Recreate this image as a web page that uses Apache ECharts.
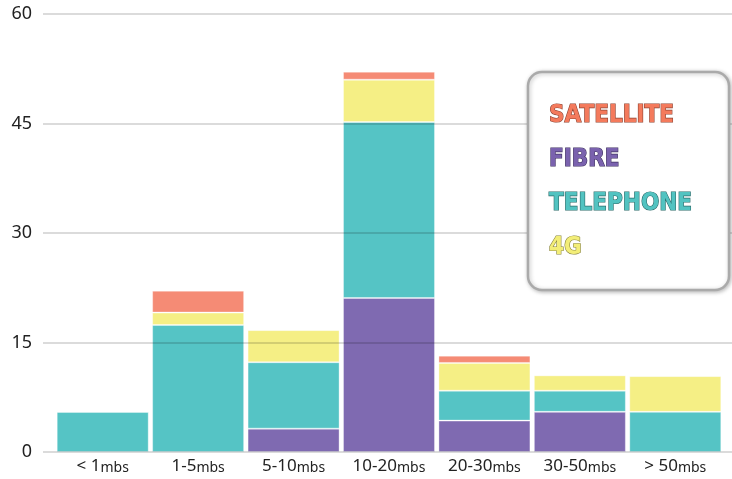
<!DOCTYPE html>
<html>
<head>
<meta charset="utf-8">
<script src="https://cdn.jsdelivr.net/npm/echarts@6/dist/echarts.min.js"></script>
<style>
  html, body { margin: 0; padding: 0; background: #fff; }
  #chart { width: 732px; height: 479px; }
</style>
</head>
<body>
<div id="chart"></div>
<script>
// speed bands
var categories = ['< 1', '1-5', '5-10', '10-20', '20-30', '30-50', '> 50'];
// stacked from bottom to top
var fibre     = [0,   0,    3.2, 21.1, 4.3, 5.5, 0];
var telephone = [5.5, 17.4, 9.1, 24.1, 4.1, 2.9, 5.5];
var fourG     = [0,   1.7,  4.4, 5.8,  3.8, 2.1, 4.9];
var satellite = [0,   3.0,  0,   1.1,  1.0, 0,   0];
var yTicks = [0, 15, 30, 45, 60];

var colors = {
    SATELLITE: '#f58b75',
    FIBRE: '#7f6ab1',
    TELEPHONE: '#55c4c5',
    '4G': '#f5ef85'
};
var legendColors = {
    SATELLITE: ['#f47a5c', '#8e4433'],
    FIBRE: ['#7a62ae', '#3f3160'],
    TELEPHONE: ['#52c3c1', '#2c6b6a'],
    '4G': ['#f3ee78', '#8a8640']
};

var myChart = echarts.init(document.getElementById('chart'));

function bar(name, data) {
    return {
        name: name,
        type: 'bar',
        stack: 'total',
        xAxisIndex: 1,
        yAxisIndex: 1,
        barCategoryGap: '3.6%',
        data: data,
        itemStyle: {
            color: colors[name],
            borderColor: 'rgba(255,255,255,0.35)',
            borderWidth: 1
        }
    };
}

var legendOrder = ['SATELLITE', 'FIBRE', 'TELEPHONE', '4G'];

var option = {
    animation: false,
    backgroundColor: '#fff',
    grid: [
        { left: 43, right: 0, top: 14, bottom: 27 },
        { left: 55, right: 9, top: 14, bottom: 27 }
    ],
    xAxis: [
        { gridIndex: 0, type: 'value', show: false },
        {
            gridIndex: 1,
            type: 'category',
            data: categories,
            axisLine: { show: false },
            axisTick: { show: false },
            axisLabel: {
                interval: 0,
                margin: 6,
                fontSize: 17,
                fontFamily: 'Noto Sans',
                color: '#222',
                formatter: function (v) { return '{a|' + v + '}{b|mbs}'; },
                rich: {
                    a: { fontFamily: 'Noto Sans', fontSize: 17, color: '#222' },
                    b: { fontFamily: 'Noto Sans', fontSize: 14, color: '#222', padding: [3, 0, 0, 0] }
                }
            }
        }
    ],
    yAxis: [
        {
            gridIndex: 0,
            type: 'value',
            min: 0,
            max: 60,
            interval: 15,
            z: 5,
            axisLine: { show: false },
            axisTick: { show: false },
            axisLabel: {
                margin: 11,
                fontFamily: 'Noto Sans',
                fontSize: 18,
                color: '#222',
                formatter: function (v) { return yTicks.indexOf(v) >= 0 ? String(v) : ''; }
            },
            splitLine: { lineStyle: { color: 'rgba(0,0,0,0.14)', width: 2 } }
        },
        {
            gridIndex: 1,
            type: 'value',
            min: 0,
            max: 60,
            interval: 15,
            show: false
        }
    ],
    legend: {
        z: 20,
        orient: 'vertical',
        left: 528,
        top: 72,
        width: 177,
        padding: [29, 20, 27, 16],
        itemGap: 14,
        icon: 'none',
        itemWidth: 0,
        itemHeight: 30,
        backgroundColor: '#fff',
        borderColor: '#aaa',
        borderWidth: 2.5,
        borderRadius: 14,
        shadowColor: 'rgba(0,0,0,0.25)',
        shadowBlur: 4,
        shadowOffsetX: 1,
        shadowOffsetY: 1,
        selectedMode: false,
        data: legendOrder.map(function (n) {
            return {
                name: n,
                textStyle: {
                    color: legendColors[n][0],
                    textBorderColor: legendColors[n][1],
                    textBorderWidth: 1.2,
                    fontFamily: '"DejaVu Sans Condensed", "DejaVu Sans"',
                    fontWeight: 'bold',
                    fontSize: 24,
                    width: 160,
                    height: 30,
                    lineHeight: 30
                }
            };
        })
    },
    series: [
        bar('FIBRE', fibre),
        bar('TELEPHONE', telephone),
        bar('4G', fourG),
        bar('SATELLITE', satellite)
    ]
};

myChart.setOption(option);
</script>
</body>
</html>
